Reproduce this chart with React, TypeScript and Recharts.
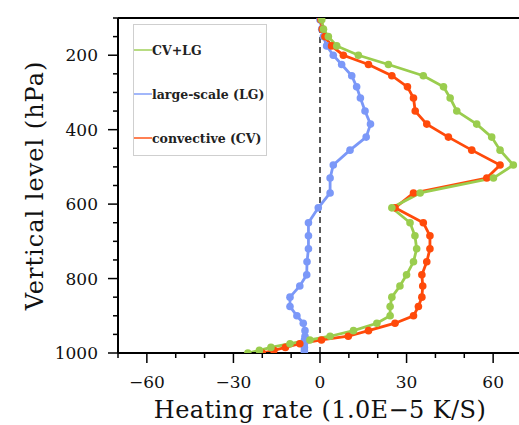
import React from "react";
import { LineChart, Line, XAxis, YAxis, ReferenceLine } from "recharts";

// pressure levels (hPa), top to bottom
const levels = [
  105, 130, 150, 175, 200, 225, 255, 285, 315, 350, 385, 420, 455, 495, 530,
  570, 610, 650, 685, 720, 755, 790, 820, 850, 875, 900, 920, 940, 955, 965,
  975, 985, 993, 1000,
];
const convective = [
  0.3, 0.8, 1.7, 4, 8.1, 16.8, 24.9, 30.3, 32.4, 33, 37, 44.5, 52.6, 62.4,
  57.8, 32.4, 26, 35.8, 38.1, 38.1, 37, 35.3, 35.6, 35.3, 34.1, 32.4, 26, 16.8,
  9.8, 0.5, -7, -12, -16, -20,
];
const largeScale = [
  0, 0.6, 1.2, 2.3, 4.6, 7.5, 11, 12.7, 14, 15.6, 17.5, 16, 10.4, 4.6, 3.5,
  3.5, -0.6, -4, -4, -4, -4.5, -4.6, -7, -10.4, -10.4, -8, -5.8, -5.2, -5.2,
  -5.4, -5.4, -5.4, -5.4, -5.4,
];
const total = [
  0.6, 1.2, 2.9, 5.8, 13.3, 23.7, 35.8, 42.8, 45.1, 47.4, 54.3, 59.5, 62.4, 67,
  60.1, 34.7, 24.9, 31.2, 32.9, 33.5, 32.4, 30, 27.7, 24.9, 24.3, 24.3, 19.7,
  11.6, 3.5, -3.5, -10.4, -17, -21, -25,
];

const xTicks = [-70, -60, -50, -40, -30, -20, -10, 0, 10, 20, 30, 40, 50, 60, 70];
const xLabels = [-60, -30, 0, 30, 60];
const yTicks = [
  100, 150, 200, 250, 300, 350, 400, 450, 500, 550, 600, 650, 700, 750, 800,
  850, 900, 950, 1000,
];
const yLabels = [200, 400, 600, 800, 1000];

const GREEN = "#9acd4e";
const BLUE = "#7b98f8";
const RED = "#ff4a0a";

const data = levels.map((p, i) => ({
  p,
  cv: convective[i],
  lg: largeScale[i],
  all: total[i],
}));

const legendItems = [
  { name: "CV+LG", color: GREEN },
  { name: "large-scale (LG)", color: BLUE },
  { name: "convective (CV)", color: RED },
];

const font = "'DejaVu Serif', serif";
const fmt = (v: number) => (v < 0 ? "\u2212" + Math.abs(v) : String(v));

const BottomTick = (props: any) => {
  const { x, y, payload } = props;
  const major = xLabels.includes(payload.value);
  return (
    <g>
      <line x1={x} x2={x} y1={y} y2={y + (major ? 10 : 5)} stroke="#000" strokeWidth={1.5} />
      {major && (
        <text x={x} y={y + 35} textAnchor="middle" fontFamily={font} fontSize={17} fill="#111">
          {fmt(payload.value)}
        </text>
      )}
    </g>
  );
};

const TopTick = (props: any) => {
  const { x, y, payload } = props;
  const major = xLabels.includes(payload.value);
  return <line x1={x} x2={x} y1={y} y2={y - (major ? 10 : 5)} stroke="#000" strokeWidth={1.5} />;
};

const LeftTick = (props: any) => {
  const { x, y, payload } = props;
  const major = yLabels.includes(payload.value);
  return (
    <g>
      <line x1={x} x2={x - (major ? 10 : 5)} y1={y} y2={y} stroke="#000" strokeWidth={1.5} />
      {major && (
        <text x={x - 20} y={y} textAnchor="end" dominantBaseline="central" fontFamily={font} fontSize={17} fill="#111">
          {payload.value}
        </text>
      )}
    </g>
  );
};

const XTitle = (props: any) => {
  const { viewBox } = props;
  const cx = viewBox.x + viewBox.width / 2;
  return (
    <text
      x={cx}
      y={viewBox.y + 65}
      textAnchor="middle"
      fontFamily={font}
      fontSize={24}
      letterSpacing={0.4}
      fill="#111"
    >
      Heating rate (1.0E{"\u2212"}5 K/S)
    </text>
  );
};

const YTitle = (props: any) => {
  const { viewBox } = props;
  const cy = viewBox.y + viewBox.height / 2;
  const cx = 43;
  return (
    <text
      x={cx}
      y={cy}
      transform={`rotate(-90, ${cx}, ${cy})`}
      textAnchor="middle"
      fontFamily={font}
      fontSize={24}
      letterSpacing={1}
      fill="#111"
    >
      Vertical level (hPa)
    </text>
  );
};

export default function App() {
  return (
    <div style={{ position: "absolute", left: 0, top: 0, width: 519, height: 425, overflow: "hidden", background: "#fff" }}>
      <LineChart
        width={530}
        height={425}
        data={data}
        layout="vertical"
        margin={{ top: 0, right: 8, bottom: 0, left: 0 }}
      >
        <XAxis
          type="number"
          domain={[-70, 70]}
          ticks={xTicks}
          interval={0}
          allowDataOverflow
          height={72}
          tickSize={0}
          tickMargin={0}
          tickLine={false}
          tick={<BottomTick />}
          axisLine={{ stroke: "#000", strokeWidth: 2 }}
          label={<XTitle />}
        />
        <XAxis
          xAxisId="top"
          orientation="top"
          type="number"
          domain={[-70, 70]}
          ticks={xTicks}
          interval={0}
          height={18}
          tickSize={0}
          tickMargin={0}
          tickLine={false}
          tick={<TopTick />}
          axisLine={{ stroke: "#000", strokeWidth: 2 }}
        />
        <YAxis
          type="number"
          dataKey="p"
          domain={[100, 1000]}
          ticks={yTicks}
          interval={0}
          allowDataOverflow
          width={118}
          tickSize={0}
          tickMargin={0}
          tickLine={false}
          tick={<LeftTick />}
          axisLine={{ stroke: "#000", strokeWidth: 2 }}
          label={<YTitle />}
        />
        <ReferenceLine x={0} stroke="#222" strokeWidth={1.5} strokeDasharray="6 4" />
        <Line
          dataKey="lg"
          stroke={BLUE}
          strokeWidth={2.8}
          dot={{ r: 3.8, fill: BLUE, stroke: BLUE, strokeWidth: 0 }}
          isAnimationActive={false}
        />
        <Line
          dataKey="cv"
          stroke={RED}
          strokeWidth={2.8}
          dot={{ r: 3.8, fill: RED, stroke: RED, strokeWidth: 0 }}
          isAnimationActive={false}
        />
        <Line
          dataKey="all"
          stroke={GREEN}
          strokeWidth={2.8}
          dot={{ r: 3.8, fill: GREEN, stroke: GREEN, strokeWidth: 0 }}
          isAnimationActive={false}
        />
      </LineChart>
      <div
        style={{
          position: "absolute",
          left: 133,
          top: 24,
          width: 134,
          height: 132,
          border: "1px solid #cfcfcf",
          boxSizing: "border-box",
        }}
      >
        {legendItems.map((item, i) => (
          <div
            key={item.name}
            style={{
              position: "absolute",
              left: 0,
              top: 16 + i * 44,
              height: 18,
              display: "flex",
              alignItems: "center",
              whiteSpace: "nowrap",
            }}
          >
            <span style={{ display: "inline-block", width: 18, height: 1.5, background: item.color, opacity: 0.7 }} />
            <span style={{ fontFamily: font, fontWeight: "bold", fontSize: 12.5, color: "#222" }}>{item.name}</span>
          </div>
        ))}
      </div>
    </div>
  );
}
